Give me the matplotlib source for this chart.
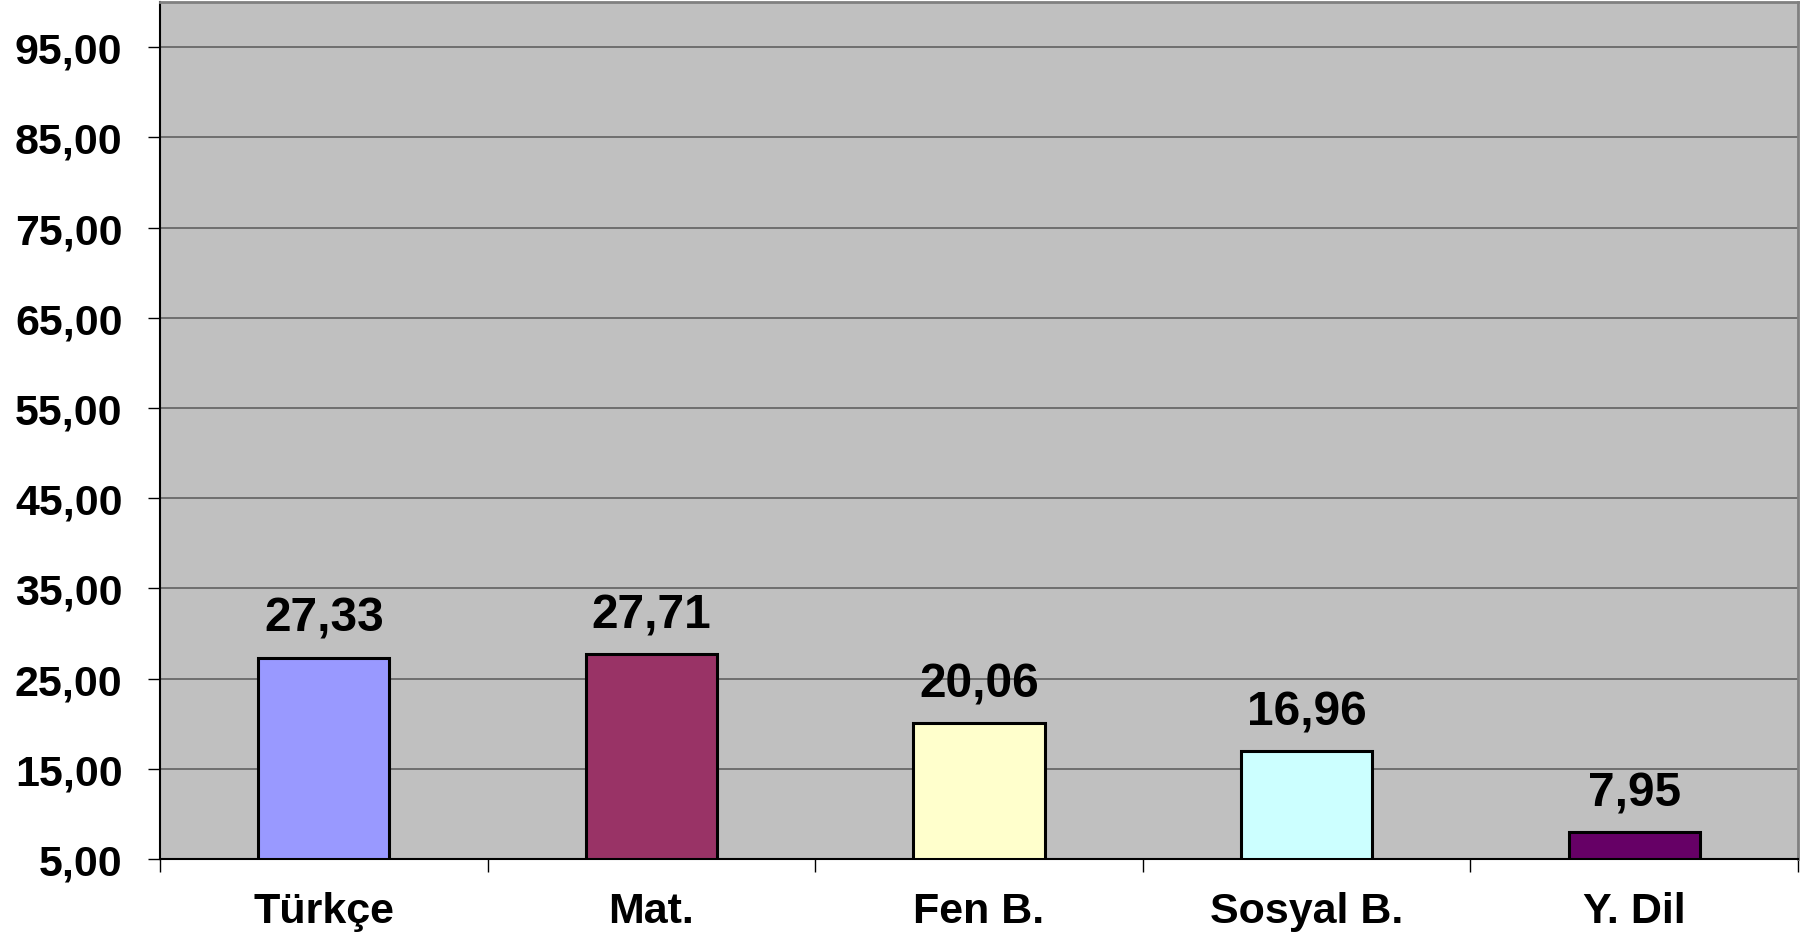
import matplotlib
matplotlib.use("Agg")
import matplotlib.pyplot as plt
import numpy as np

categories = ["Türkçe", "Mat.", "Fen B.", "Sosyal B.", "Y. Dil"]
values = [27.33, 27.71, 20.06, 16.96, 7.95]
colors = ["#9999FF", "#993366", "#FFFFCC", "#CCFFFF", "#660066"]
yticks = [5, 15, 25, 35, 45, 55, 65, 75, 85, 95]

plt.rcParams['font.family'] = ['Liberation Sans', 'DejaVu Sans']
plt.rcParams['font.weight'] = 'bold'

fig = plt.figure(figsize=(18.07, 9.37), dpi=100)
ax = fig.add_axes([160/1807, 1-860/937, (1798-160)/1807, (860-3)/937])
ax.set_facecolor("#C0C0C0")

x = np.arange(len(categories))
base = 5
bars = ax.bar(x, [v - base for v in values], bottom=base, width=0.40,
              color=colors, edgecolor="black", linewidth=2.2, zorder=3)

for xi, v in zip(x, values):
    ax.annotate(f"{v:.2f}".replace(".", ","), (xi, v), xytext=(0, 12),
                textcoords="offset points", ha="center", va="bottom",
                fontsize=34.5, fontweight="bold", zorder=4)

ax.set_xlim(-0.5, len(categories) - 0.5)
ax.set_ylim(5, 100)
ax.set_yticks(yticks)
ax.set_yticklabels([f"{t:.2f}".replace(".", ",") for t in yticks],
                   fontsize=31, fontweight="bold")
ax.yaxis.grid(True, color="#606060", linewidth=1.2, zorder=1)
ax.set_axisbelow(True)

ax.set_xticks(x)
ax.set_xticklabels(categories, fontsize=31, fontweight="bold")
ax.set_xticks(np.arange(-0.5, len(categories)), minor=True)
ax.tick_params(axis="x", which="major", length=0, pad=23)
ax.tick_params(axis="x", which="minor", length=9, width=1, color="black", direction="out")
ax.tick_params(axis="y", which="major", length=9, width=1, color="black", direction="out", pad=18)

for s in ["top", "right"]:
    ax.spines[s].set_color("#808080")
    ax.spines[s].set_linewidth(2)
for s in ["left", "bottom"]:
    ax.spines[s].set_color("black")
    ax.spines[s].set_linewidth(1.5)

fig.savefig("out.png", dpi=100)
